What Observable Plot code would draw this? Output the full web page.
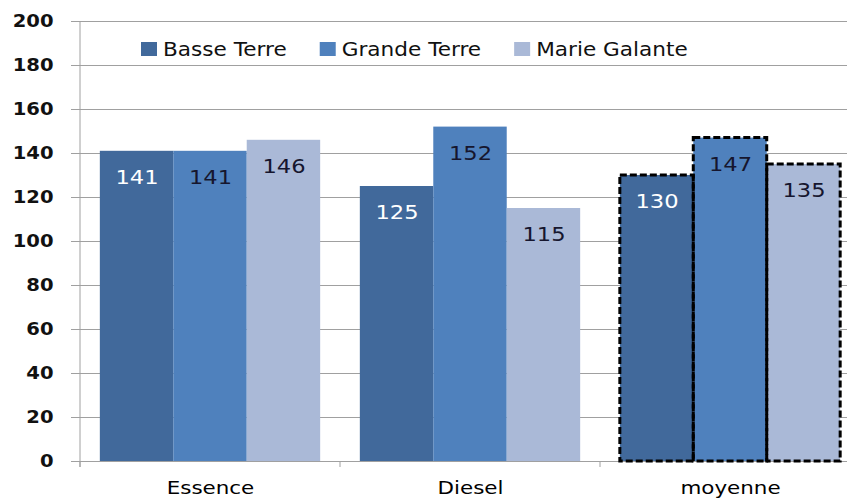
<!DOCTYPE html>
<html><head><meta charset="utf-8">
<script src="https://cdn.jsdelivr.net/npm/d3@7"></script>
<script src="https://cdn.jsdelivr.net/npm/@observablehq/plot@0.6"></script>
<style>
html,body{margin:0;padding:0;background:#fff;}
#wrap{position:relative;width:847px;height:499px;overflow:hidden;font-family:"DejaVu Sans",Verdana,sans-serif;}
#wrap svg{position:absolute;left:0;top:0;}
</style></head><body><div id="wrap"></div>
<script>
const groups = ["Essence", "Diesel", "moyenne"];
const series = ["Basse Terre", "Grande Terre", "Marie Galante"];
const essence = [141, 141, 146];
const diesel = [125, 152, 115];
const moyenne = [130, 147, 135];
const colors = ["#41699b", "#4f81bd", "#aab9d7"];
const labelColors = ["#ffffff", "#16162e", "#16162e"];
const yTicks = [0, 20, 40, 60, 80, 100, 120, 140, 160, 180, 200];

const byGroup = [essence, diesel, moyenne];
const data = groups.flatMap((g, gi) => byGroup[gi].map((v, i) => ({group: g, series: series[i], value: v, si: i})));
const grid = "#a0a0a0";
const font = "DejaVu Sans, Verdana, sans-serif";

const chart = Plot.plot({
  width: 847, height: 499,
  marginLeft: 80, marginRight: 0, marginTop: 21, marginBottom: 38,
  style: {fontFamily: font, background: "transparent", overflow: "visible", color: "#000"},
  fx: {domain: groups, range: [80, 860], padding: 0, round: false, label: null},
  x: {domain: series, paddingInner: 0, paddingOuter: 0.27, round: false, axis: null},
  y: {domain: [0, 200], range: [461, 21]},
  color: {domain: series, range: colors},
  marks: [
    Plot.gridY(yTicks, {stroke: grid, strokeOpacity: 1}),
    Plot.ruleY([0], {stroke: grid}),
    Plot.barY(data, {fx: "group", x: "series", y: "value", fill: "series"}),
    Plot.barY(data.filter(d => d.group === "moyenne"), {fx: "group", x: "series", y: "value", fill: "none", stroke: "#000", strokeWidth: 3, strokeDasharray: "7,3"}),
    Plot.text(data, {fx: "group", x: "series", y: "value", text: d => String(d.value), dy: 26, fontSize: 20, fill: d => labelColors[d.si]}),
    Plot.axisY(yTicks, {tickSize: 9, tickPadding: 18, fontSize: 17, fontWeight: "bold", stroke: grid, fill: "#111", label: null}),
    Plot.axisFx({anchor: "bottom", tickSize: 0, tickPadding: 20, fontSize: 18, fill: "#000", label: null})
  ]
});
document.getElementById("wrap").appendChild(chart);

const svg = d3.select(chart);
const fx = chart.scale("fx");
const y = chart.scale("y");
const y0 = y.apply(0), yTop = y.apply(200);
// category boundary ticks and axis line
const bounds = groups.map(g => fx.apply(g)).concat([fx.apply(groups[groups.length - 1]) + fx.bandwidth]);
svg.append("g").selectAll("line").data(bounds).join("line")
  .attr("x1", d => d).attr("x2", d => d).attr("y1", y0).attr("y2", y0 + 6)
  .attr("stroke", grid);
svg.append("line").attr("x1", bounds[0]).attr("x2", bounds[0]).attr("y1", yTop).attr("y2", y0 + 6).attr("stroke", grid);

// stretch text horizontally like the reference
svg.selectAll("text").each(function() {
  const fs = parseFloat(getComputedStyle(this).fontSize);
  const k = fs === 17 ? 1.15 : fs === 18 ? 1.19 : 1.13;
  const L = this.getComputedTextLength();
  if (L > 0) { this.setAttribute("textLength", L * k); this.setAttribute("lengthAdjust", "spacingAndGlyphs"); }
});

// legend
const leg = d3.select("#wrap").append("svg").attr("width", 847).attr("height", 40)
  .style("top", "29px").style("left", "0px").style("font-family", font);
let cx = 141;
series.forEach((s, i) => {
  leg.append("rect").attr("x", cx).attr("y", 13).attr("width", 16).attr("height", 14).attr("fill", colors[i]);
  const t = leg.append("text").attr("x", cx + 22).attr("y", 20).attr("dy", "0.36em")
    .attr("font-size", 20).attr("fill", "#111").text(s);
  const L = t.node().getComputedTextLength() * 1.08;
  t.attr("textLength", L).attr("lengthAdjust", "spacingAndGlyphs");
  cx = cx + 22 + L + 33;
});
</script></body></html>
